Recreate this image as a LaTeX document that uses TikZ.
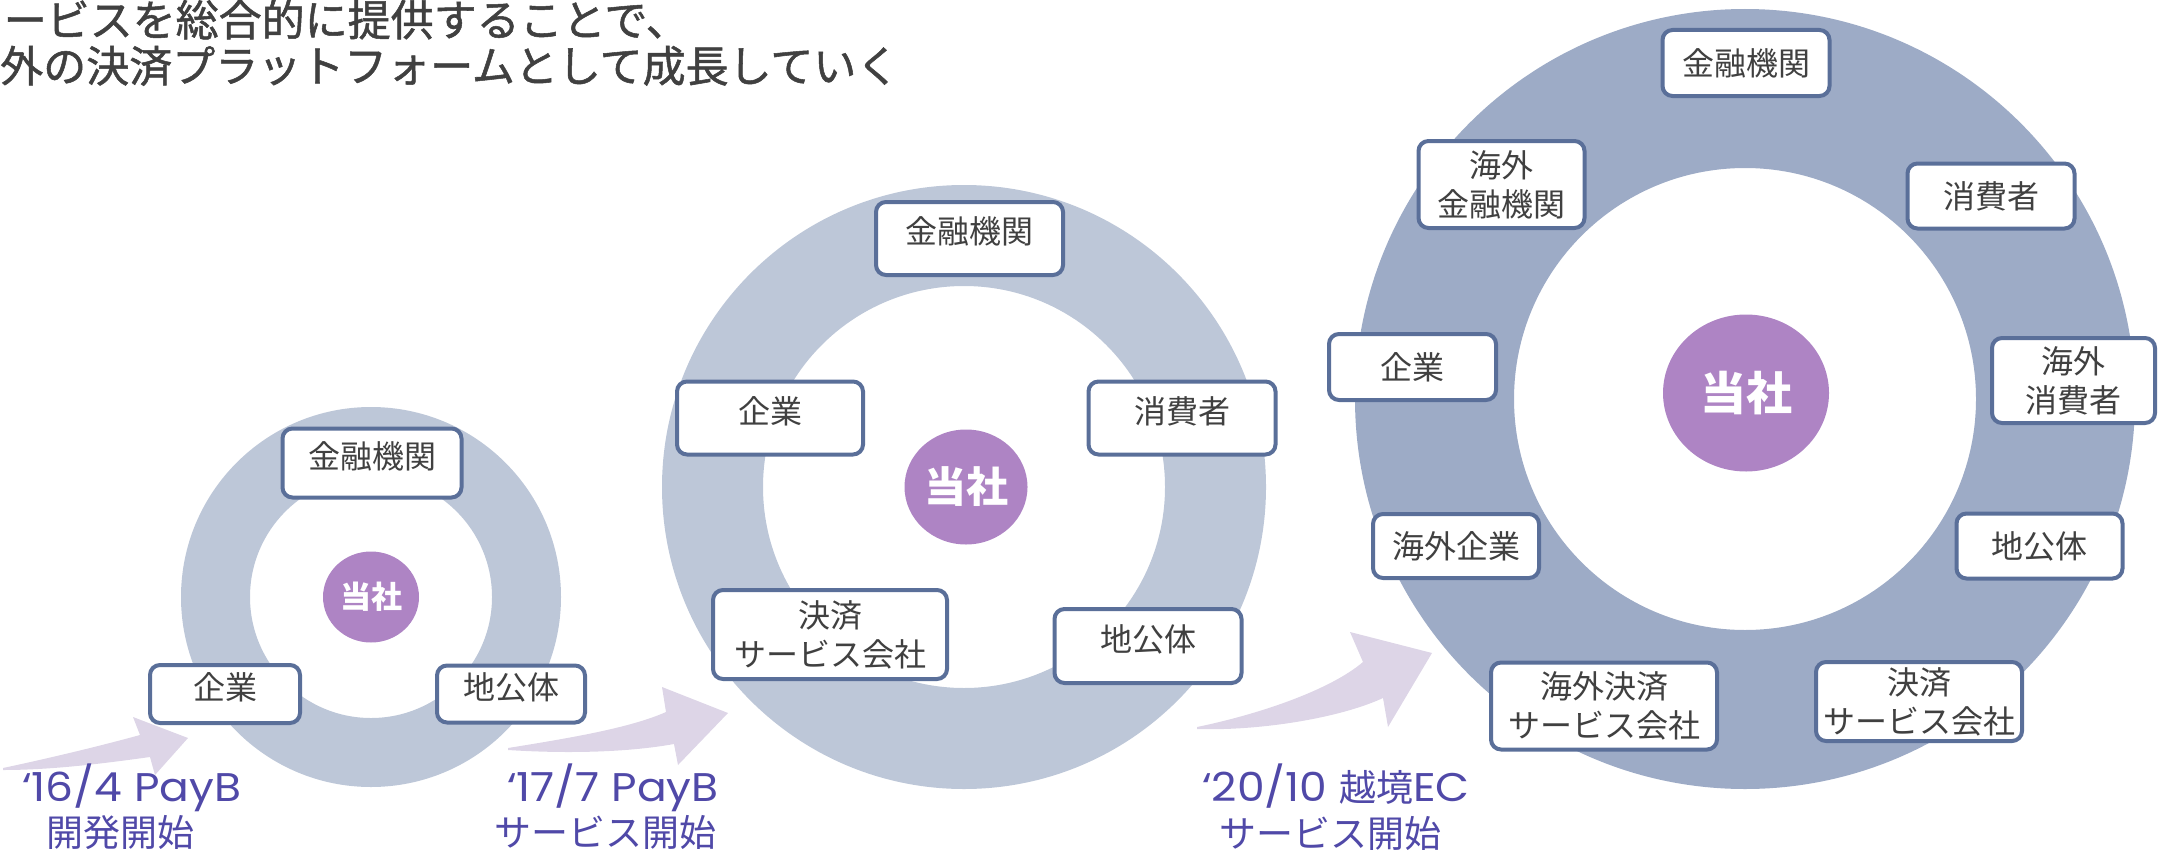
\documentclass[tikz,border=0pt]{standalone}
\usepackage{fontspec}
\usetikzlibrary{shapes.geometric}
\setmainfont{Noto Sans CJK JP}
\newfontfamily\lat[FakeStretch=1.1]{Poppins}
\newfontfamily\ttlfont[FakeBold=1.2]{Noto Sans CJK JP}
\definecolor{ringL}{HTML}{BDC7D8}
\definecolor{ringD}{HTML}{9DABC6}
\definecolor{boxline}{HTML}{5A6F99}
\definecolor{corpc}{HTML}{AE84C4}
\definecolor{txt}{HTML}{404040}
\definecolor{labc}{HTML}{5049A8}
\definecolor{arrowc}{HTML}{DDD5E7}
\newcommand\latt[1]{{\lat\fontsize{40}{44}\selectfont #1}}
\tikzset{
  box/.style={draw=boxline, line width=4pt, rounded corners=10pt, fill=white, text=txt,
    font=\fontsize{32}{39}\selectfont, inner sep=0pt},
  low/.style={text height=1.31em, text depth=0.25em},
  two/.style={align=center},
  corpnode/.style={ellipse, fill=corpc, text=white, inner sep=0pt},
  lab/.style={text=labc, inner sep=0pt, anchor=base west, font=\fontsize{37}{44}\selectfont},
  labtop/.style={lab, text height=28pt, text depth=2pt},
  ttl/.style={text=txt, inner sep=0pt, anchor=base west, font=\ttlfont\fontsize{43}{50}\selectfont},
  swoosh/.style={fill=arrowc}
}
\begin{document}
\begin{tikzpicture}[x=1pt,y=-1pt]
\useasboundingbox (0,0) rectangle (2159,851);

% title
\node[ttl] (h1) at (3.5,36) {ービスを総合的に提供することで、};
\node[ttl] (h2) at (0,82) {外の決済プラットフォームとして成長していく};

% arrows
\fill[swoosh] (3,768) .. controls (50,758) and (100,746) .. (140,735) -- (133,717) -- (188,738) -- (155,775) -- (150,757) .. controls (100,764) and (50,770) .. (3,770) -- cycle;
\fill[swoosh] (508,748) .. controls (570,738) and (630,728) .. (666,712) -- (662,687) -- (728,713) -- (678,765) -- (674,744) .. controls (630,752) and (570,754) .. (508,750) -- cycle;
\fill[swoosh] (1197,727) .. controls (1260,714) and (1330,690) .. (1363,662) -- (1350,632) -- (1432,653) -- (1388,727) -- (1383,698) .. controls (1340,718) and (1260,731) .. (1197,729) -- cycle;

% rings
\fill[ringL, even odd rule] (371,597) circle[radius=190] (371,597) circle[radius=121];
\fill[ringL, even odd rule] (964,487) circle[radius=302] (964,487) circle[radius=201];
\fill[ringD, even odd rule] (1745,399) circle[radius=390] (1745,399) circle[radius=231];

% centres
\node[corpnode, minimum width=96, minimum height=91, font=\fontsize{31}{36}\selectfont\bfseries] (c1) at (371,597) {当社};
\node[corpnode, minimum width=123, minimum height=115, font=\fontsize{42}{48}\selectfont\bfseries] (c2) at (966,487) {当社};
\node[corpnode, minimum width=166, minimum height=157, font=\fontsize{46}{52}\selectfont\bfseries] (c3) at (1746,393) {当社};

% small ring boxes
\node[box, low, minimum width=179, minimum height=69] (s1) at (372,463) {金融機関};
\node[box, low, minimum width=150, minimum height=58] (s2) at (225,694) {企業};
\node[box, low, minimum width=148, minimum height=57] (s3) at (511,694) {地公体};

% middle ring boxes
\node[box, low, minimum width=187, minimum height=73] (m1) at (969.5,238.5) {金融機関};
\node[box, low, minimum width=186, minimum height=73] (m2) at (770,418) {企業};
\node[box, low, minimum width=187, minimum height=73] (m3) at (1182,418) {消費者};
\node[box, two, minimum width=234, minimum height=89] (m4) at (830,634.5) {決済\\サービス会社};
\node[box, low, minimum width=187, minimum height=74] (m5) at (1148,646) {地公体};

% large ring boxes
\node[box, minimum width=167, minimum height=66] (l1) at (1746,63) {金融機関};
\node[box, two, minimum width=166, minimum height=87] (l2) at (1501.5,184.5) {海外\\金融機関};
\node[box, minimum width=167, minimum height=65] (l3) at (1991,196) {消費者};
\node[box, minimum width=167, minimum height=66] (l4) at (1412.5,367) {企業};
\node[box, two, minimum width=163, minimum height=85] (l5) at (2073.5,380.5) {海外\\消費者};
\node[box, minimum width=166, minimum height=64] (l6) at (1456,546) {海外企業};
\node[box, minimum width=166, minimum height=65] (l7) at (2039.5,546) {地公体};
\node[box, two, minimum width=226, minimum height=87] (l8) at (1604,706) {海外決済\\サービス会社};
\node[box, two, minimum width=206, minimum height=79] (l9) at (1919,701.5) {決済\\サービス会社};

% labels
\node[labtop] (a1) at (22,801) {\latt{‘16/4 PayB}};
\node[lab] (b1) at (46,846) {開発開始};
\node[labtop] (a2) at (507,801) {\latt{‘17/7 PayB}};
\node[lab] (b2) at (494,846) {サービス開始};
\node[labtop] (a3) at (1202,801) {\latt{‘20/10 }越境\latt{EC}};
\node[lab] (b3) at (1219,847) {サービス開始};
\end{tikzpicture}
\end{document}
